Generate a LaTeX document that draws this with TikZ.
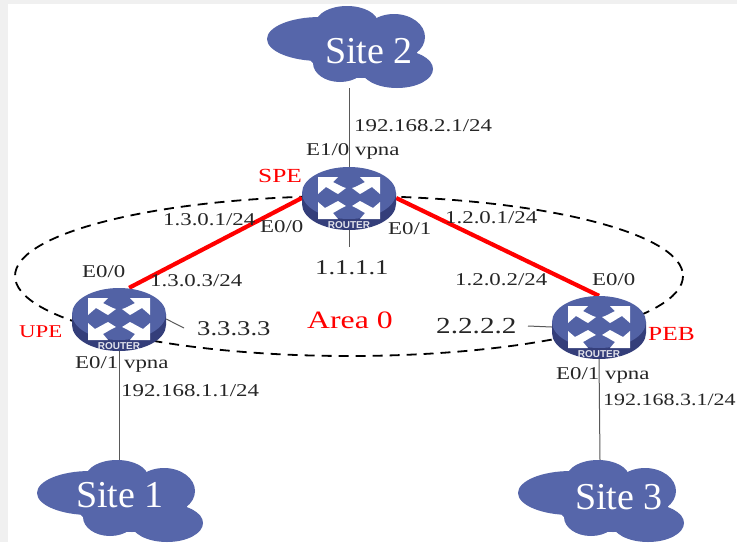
\documentclass[tikz,border=0pt]{standalone}
\usepackage{fontspec}
\setmainfont{Liberation Serif}
\newfontfamily\lab[FakeStretch=1.27]{Liberation Serif}
\newfontfamily\rlab{Liberation Sans}
\definecolor{bgc}{RGB}{240,240,240}
\definecolor{cloudc}{RGB}{86,102,170}
\definecolor{rtop}{RGB}{82,98,165}
\definecolor{rside}{RGB}{52,62,122}
\tikzset{
  x=1pt,y=-1pt,
  lbl/.style={inner sep=0pt,anchor=west,font=\fontsize{18}{18}\selectfont\lab,text=black!85},
  redlbl/.style={inner sep=0pt,anchor=west,font=\fontsize{20}{20}\selectfont\lab,text=red},
  sitelbl/.style={inner sep=0pt,font=\fontsize{38}{38}\selectfont,text=white},
  routerbox/.style={minimum width=94pt,minimum height=62pt,inner sep=0pt,rectangle},
  sitebox/.style={minimum width=150pt,minimum height=70pt,inner sep=0pt,rectangle},
  thinlink/.style={draw=black!65,line width=1pt},
  redlink/.style={draw=red,line width=4.2pt},
  area/.style={draw=black,line width=1.8pt,dash pattern=on 10pt off 7pt}
}
\newcommand{\cloudat}[2]{%
  \begin{scope}[shift={(#1,#2)}]
    \fill[cloudc] (-30,-6) ellipse [x radius=53,y radius=22];
    \fill[cloudc] (-3,-22) ellipse [x radius=31,y radius=17];
    \fill[cloudc] (44,-8) ellipse [x radius=31,y radius=23];
    \fill[cloudc] (12,6) ellipse [x radius=55,y radius=27];
    \fill[cloudc] (-10,18) ellipse [x radius=27,y radius=19];
    \fill[cloudc] (47,24) ellipse [x radius=36,y radius=19];
  \end{scope}}
\newcommand{\arrowicon}{%
  \fill[white] (-31,-21) -- (-11,-21) -- (-16,-16) .. controls (-10,-13) and (-7,-11) .. (-3,-10) -- (-11,-4) .. controls (-15,-6) and (-19,-9) .. (-23,-11) -- (-31,-4) -- cycle;
}
\newcommand{\routerat}[2]{%
  \begin{scope}[shift={(#1,#2)}]
    \fill[rside] (-47,-5) -- (-47,6) arc [start angle=180,end angle=0,x radius=47,y radius=26] -- (47,-5) -- cycle;
    \fill[rtop] (0,-5) ellipse [x radius=47,y radius=26];
    \arrowicon
    \begin{scope}[xscale=-1]\arrowicon\end{scope}
    \fill[white] (-31,21) -- (-31,4) -- (-24,10) .. controls (-20,8) and (-15,5) .. (-11,3) -- (-3,8) .. controls (-8,10) and (-12,13) .. (-16,15) -- (-11,21) -- cycle;
    \fill[white] (31,21) -- (31,4) -- (24,10) .. controls (20,8) and (15,5) .. (11,3) -- (3,8) .. controls (8,10) and (12,13) .. (16,15) -- (11,21) -- cycle;
    \node[inner sep=0pt,text=white!85!rside,font=\fontsize{10}{10}\selectfont\rlab\bfseries] at (0,27) {ROUTER};
  \end{scope}}
\begin{document}
\begin{tikzpicture}
\useasboundingbox (0,0) rectangle (737,542);
\fill[bgc] (0,0) rectangle (737,542);
\fill[white] (8,4) rectangle (737,542);
% invisible anchors
\node[routerbox] (spe) at (349,198) {};
\node[routerbox] (upe) at (119,319) {};
\node[routerbox] (peb) at (599,327) {};
\node[sitebox] (site2) at (349,53) {};
\node[sitebox] (site1) at (119,495) {};
\node[sitebox] (site3) at (600,495) {};
\coordinate (loopa) at (349,247);
\coordinate (loopb) at (184,328);
\coordinate (loopc) at (528,326);
% area
\draw[area] (349,276) ellipse [x radius=334,y radius=80];
% links
\draw[thinlink] (site2.south) -- (spe.north);
\draw[thinlink] (spe.south) -- (loopa);
\draw[thinlink] (upe.south) -- (site1.north);
\draw[thinlink] (peb.south) -- (site3.north);
\draw[thinlink] (upe.east) -- (loopb);
\draw[thinlink] (peb.west) -- (loopc);
\draw[redlink] (spe.west) -- (upe.72);
\draw[redlink] (spe.east) -- (peb.north);
% devices
\cloudat{350}{45}
\cloudat{120}{499}
\cloudat{601}{499}
\routerat{349}{198}
\routerat{119}{319}
\routerat{599}{327}
% labels
\node[sitelbl] (s2) at (369,51) {Site 2};
\node[sitelbl] (s1) at (120,495) {Site 1};
\node[sitelbl] (s3) at (619,497) {Site 3};
\node[lbl] (a1) at (354,126) {192.168.2.1/24};
\node[lbl] (a2) at (306,151) {E1/0 vpna};
\node[redlbl] (n1) at (258,176) {SPE};
\node[lbl] (a3) at (163,220) {1.3.0.1/24};
\node[lbl] (a4) at (260,227) {E0/0};
\node[lbl] (a5) at (388,229) {E0/1};
\node[lbl] (a6) at (445,218) {1.2.0.1/24};
\node[lbl,font=\fontsize{21}{21}\selectfont\lab] (a7) at (315,268) {1.1.1.1};
\node[lbl] (a8) at (82,272) {E0/0};
\node[lbl] (a9) at (150,281) {1.3.0.3/24};
\node[lbl] (a10) at (455,280) {1.2.0.2/24};
\node[lbl] (a11) at (592,280) {E0/0};
\node[lbl,font=\fontsize{21}{21}\selectfont\lab] (a12) at (197,329) {3.3.3.3};
\node[redlbl,font=\fontsize{25}{25}\selectfont\lab] (n2) at (307,320) {Area 0};
\node[lbl,font=\fontsize{23}{23}\selectfont\lab] (a13) at (436,326) {2.2.2.2};
\node[redlbl] (n3) at (648,334) {PEB};
\node[redlbl,font=\fontsize{18}{18}\selectfont\lab] (n4) at (19,332) {UPE};
\node[lbl] (a14) at (75,364) {E0/1 vpna};
\node[lbl] (a15) at (556,375) {E0/1 vpna};
\node[lbl] (a16) at (121,391) {192.168.1.1/24};
\node[lbl,font=\fontsize{17.3}{17.3}\selectfont\lab] (a17) at (603,400) {192.168.3.1/24};
\end{tikzpicture}
\end{document}
